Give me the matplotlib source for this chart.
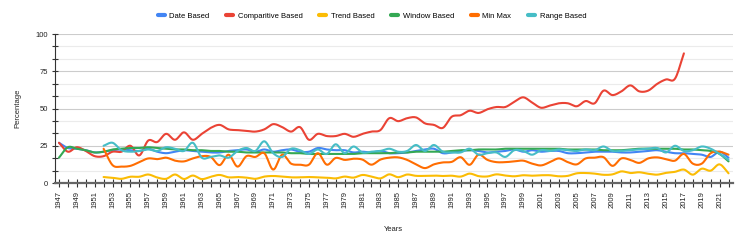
import numpy as np
import matplotlib
matplotlib.use("Agg")
import matplotlib.pyplot as plt
from matplotlib.ticker import MultipleLocator

plt.rcParams['font.family'] = ['Liberation Sans', 'DejaVu Sans']

years = list(range(1947, 2023))

# 1947-2022
date_based = [27, 23.5, 23, 22, 20.5, 21, 22, 22.5, 22, 21.5,
              23, 21, 20, 21, 22, 21.5, 21, 20.5, 20.5, 21.5,
              22, 22.5, 21, 22.5, 21, 22, 22.5, 21, 21, 23.5,
              22.5, 22, 22, 20.5, 21, 20.5, 21.5, 20, 20, 20.5,
              21.5, 22.5, 23, 20, 20.5, 21.5, 22, 21.5, 20.5, 21,
              21.5, 22.5, 21, 22, 21, 21.5, 21.5, 20, 20, 20.5,
              21, 21, 21, 20.5, 20.5, 21, 21.5, 22, 21, 20,
              20, 19.5, 19, 17.5, 21, 17]

# 1947-2017
comparitive_based = [27, 21, 24, 21.5, 18, 18, 21, 21, 25, 18.5,
                     28.5, 27.5, 33, 29, 34, 29, 33, 37, 39, 36,
                     35.5, 35, 34.5, 36, 39.5, 37.5, 34.5, 37.5, 29, 33,
                     31.5, 31.5, 33, 31, 33, 34.5, 35.5, 43.5, 41.5, 43.5,
                     44, 40, 39, 37, 44.5, 45.5, 48.5, 47, 49.5, 51,
                     51, 54.5, 57.5, 54, 50.5, 52, 53.5, 53.5, 51.5, 55,
                     53.5, 62, 59, 61.5, 65.5, 61.5, 62, 66.5, 69.5, 70,
                     87]

# 1952-2022
trend_based = [4, 3.5, 2.8, 4.2, 4.2, 5.7, 3.7, 2.8, 5.7, 2.7,
               5, 2.6, 4.2, 5.4, 3.8, 4, 3.6, 2.8, 4.3, 4.7,
               4.3, 3.8, 3.8, 4, 3.8, 3.6, 3.1, 4.3, 3.6, 5.4,
               4.3, 3.1, 5.8, 3.9, 5.7, 4.8, 4.8, 5, 4.7, 4.9,
               4.3, 6.3, 4.6, 4.4, 5.8, 5, 4.5, 5.2, 4.9, 5.2,
               5.2, 4.5, 4.8, 6.5, 6.7, 6.3, 5.5, 5.8, 7.8, 6.7,
               7.2, 6.2, 5.6, 6.8, 7.5, 9, 5.6, 9.6, 8.3, 12.5,
               6.5]

# 1947-2022
window_based = [17, 24, 23, 22, 20.5, 21, 22.5, 23, 23.5, 23.5,
                24, 23.5, 23, 22.5, 22.5, 22, 22, 21.5, 21.5, 21,
                21, 20.5, 20.5, 20.5, 20.5, 20.5, 20, 20, 19.5, 19.5,
                19.5, 19.5, 19.5, 19.5, 20, 20, 20, 20, 20.5, 20.5,
                21, 21, 21, 21, 21.5, 22, 22, 22.5, 22.5, 22.5,
                23, 23, 23, 23, 23, 23, 23, 22.5, 22.5, 22.5,
                22.5, 22, 22, 22, 22.5, 23, 23, 23, 23, 23,
                22.5, 22.5, 22, 21.5, 19.5, 14.5]

# 1952-2022
min_max = [23, 12, 11, 11.5, 14, 16.5, 16, 17, 15, 14.5,
           16.5, 18, 17.5, 12, 19, 11, 18, 17.5, 20, 9,
           19, 13, 12.3, 12.3, 20, 12.3, 16.8, 15.5, 16.3, 15.7,
           12.3, 15.7, 17, 17.2, 15.5, 12.5, 10, 12.5, 13.8, 14.2,
           17.3, 12.2, 19, 15.5, 14, 14, 14.5, 15, 13, 11.8,
           14, 16.5, 14, 12.5, 16.5, 17, 17.3, 11.5, 16.5, 15.5,
           13.5, 16.5, 17.2, 16, 15, 19.5, 13, 13, 20, 21,
           19]

# 1952-2022
range_based = [25, 27, 22, 21, 21.5, 22.5, 21.5, 24, 23, 21.5,
               27, 17, 17.5, 18.5, 17, 21.5, 23.5, 21.5, 28, 20,
               17.5, 23, 22, 19.5, 22.5, 19.5, 26, 20, 24.5, 20.5,
               21, 21.5, 23, 21, 21.5, 25.5, 21.5, 25.5, 21, 20.5,
               20.5, 23, 19, 20, 20.5, 17.5, 22, 21.5, 19, 22,
               21.5, 22.5, 22, 21.5, 22.5, 22, 24.5, 21.5, 21.5, 22,
               22.5, 23, 23.5, 20.5, 25, 21.5, 22, 24.5, 23, 19.5,
               15.5]

series = [
    ("Date Based", 1947, date_based, "#4285F4"),
    ("Comparitive Based", 1947, comparitive_based, "#EA4335"),
    ("Trend Based", 1952, trend_based, "#FBBC04"),
    ("Window Based", 1947, window_based, "#34A853"),
    ("Min Max", 1952, min_max, "#FF6D01"),
    ("Range Based", 1952, range_based, "#46BDC6"),
]


def smooth(x, y, n=10):
    # catmull-rom curve through the points, like the "function" curve type
    x = np.asarray(x, float)
    y = np.asarray(y, float)
    yp = np.concatenate([[2 * y[0] - y[1]], y, [2 * y[-1] - y[-2]]])
    t = np.linspace(0, 1, n, endpoint=False)
    xs, ys = [], []
    for i in range(len(x) - 1):
        p0, p1, p2, p3 = yp[i], yp[i + 1], yp[i + 2], yp[i + 3]
        yy = 0.5 * ((2 * p1) + (-p0 + p2) * t
                    + (2 * p0 - 5 * p1 + 4 * p2 - p3) * t ** 2
                    + (-p0 + 3 * p1 - 3 * p2 + p3) * t ** 3)
        xs.append(x[i] + t * (x[i + 1] - x[i]))
        ys.append(yy)
    xs.append([x[-1]])
    ys.append([y[-1]])
    return np.concatenate(xs), np.concatenate(ys)


fig = plt.figure(figsize=(7.47, 2.42), dpi=100)
ax = fig.add_axes([54.5 / 747, 59 / 242, (733 - 54.5) / 747, 149 / 242])

for name, start, vals, col in series:
    xx = list(range(start, start + len(vals)))
    sx, sy = smooth(xx, vals)
    ax.plot(sx, sy, color=col, lw=1.5, label=name, solid_capstyle='round', zorder=3)

ax.set_xlim(1946.5, 2022.5)
ax.set_ylim(0, 100)

ax.yaxis.set_major_locator(MultipleLocator(25))
ax.yaxis.set_minor_locator(MultipleLocator(25 / 3))
ax.grid(axis='y', which='major', color='#cccccc', lw=0.8, zorder=0)
ax.grid(axis='y', which='minor', color='#ebebeb', lw=0.8, zorder=0)

ax.set_xticks(years)
ax.set_xticklabels([str(y) if (y - 1947) % 2 == 0 else "" for y in years],
                   rotation=90, fontsize=5.5, color='#222222')
ax.tick_params(axis='x', which='major', direction='inout', length=6, width=0.8,
               color='#333333', pad=3)
ax.tick_params(axis='y', which='both', direction='inout', length=5, width=0.8,
               color='#333333', labelsize=5.5, labelcolor='#222222', pad=2)

for s in ['top', 'right']:
    ax.spines[s].set_visible(False)
ax.spines['left'].set_color('#333333')
ax.spines['left'].set_linewidth(0.8)
ax.spines['bottom'].set_color('#666666')
ax.spines['bottom'].set_linewidth(1.6)

ax.set_xlabel("Years", fontsize=5.5, color='#222222', labelpad=13)
ax.set_ylabel("Percentage", fontsize=5.5, color='#222222', labelpad=10)

fig.legend(loc='center', bbox_to_anchor=(0.498, 1 - 16 / 242), ncol=6,
           frameon=False, fontsize=5.5, handlelength=0.9, handletextpad=0.6,
           columnspacing=2.2, handleheight=0.5)
for lh in fig.legends[0].get_lines():
    lh.set_linewidth(3)

fig.savefig("out.png", dpi=100)
